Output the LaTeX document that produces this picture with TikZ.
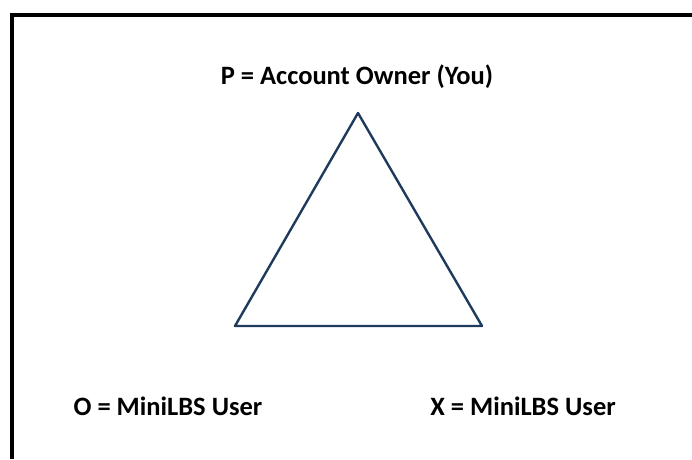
\documentclass[tikz,border=0pt]{standalone}
\usepackage{fontspec}
\setmainfont{Carlito}
\usetikzlibrary{positioning}

\begin{document}
\begin{tikzpicture}[x=1pt,y=-1pt]

 \tikzset{role label/.style={
 		font=\fontsize{26.5}{30}\selectfont\bfseries,
 		inner sep=0pt,
 		anchor=center
 	},
 	relation edge/.style={
 		draw=edgeblue,
 		line width=2.4pt,
 		line join=round
 	},
 	frame line/.style={line width=4pt, black}
 }
 \definecolor{edgeblue}{HTML}{1F3A5C}

 \useasboundingbox (0,0) rectangle (692,459);
 % frame
 \draw[frame line] (11.5,459) -- (11.5,15) -- (692,15);

 \coordinate (top) at (358,113);
 \coordinate (left) at (235,326);
 \coordinate (right) at (482,326);
 \draw[relation edge] (top) -- (left) -- (right) -- cycle;

 \node[role label] (P) at (357,77) {P = Account Owner (You)};
 \node[role label] (O) at (168,406) {O = MiniLBS User};
 \node[role label] (X) at (523,406) {X = MiniLBS User};
\end{tikzpicture}
\end{document}
